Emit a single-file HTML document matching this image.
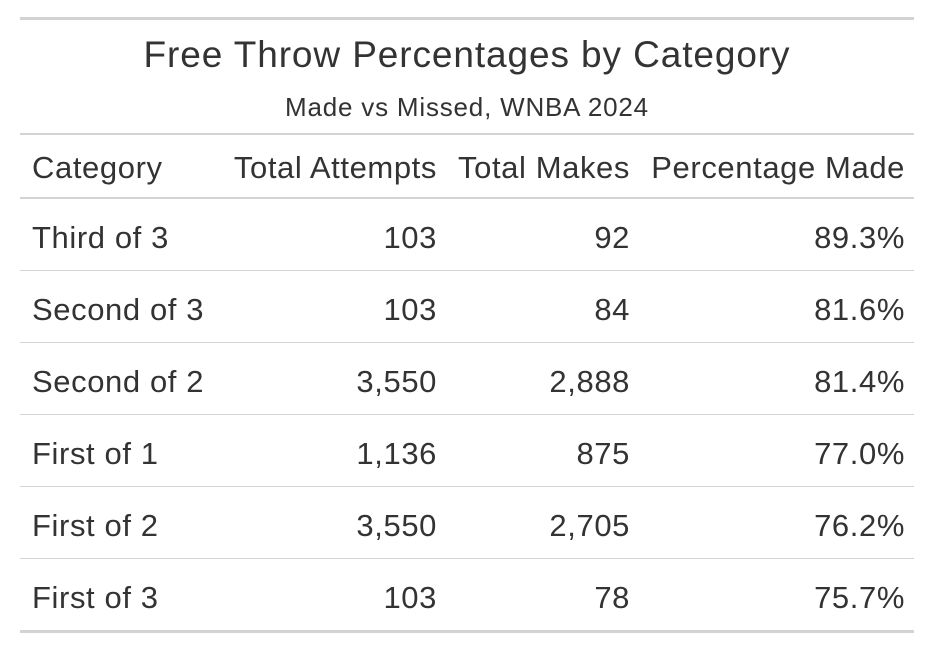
<!DOCTYPE html>
<html><head><meta charset="utf-8"><style>
body{margin:0;background:#fff;width:936px;height:658px;position:relative;font-family:"Liberation Sans",sans-serif;color:#333;overflow:hidden}
.l{position:absolute;left:20px;width:894px;background:#d3d3d3}
.t{position:absolute;white-space:nowrap;font-size:31px;letter-spacing:0.6px;line-height:34px}
.r{text-align:right}
</style></head><body>
<div class="l" style="top:17px;height:3px"></div>
<div class="t" style="left:20px;width:894px;text-align:center;top:35px;font-size:37px;letter-spacing:0.9px;line-height:40px">Free Throw Percentages by Category</div>
<div class="t" style="left:20px;width:894px;text-align:center;top:92px;font-size:26px;letter-spacing:0.8px;line-height:30px">Made vs Missed, WNBA 2024</div>
<div class="l" style="top:133px;height:2px"></div>
<div class="t" style="left:32px;top:151px">Category</div>
<div class="t r" style="right:499px;top:151px">Total Attempts</div>
<div class="t r" style="right:306px;top:151px">Total Makes</div>
<div class="t r" style="right:31px;top:151px">Percentage Made</div>
<div class="l" style="top:197px;height:2px"></div>
<div id="rows"></div>
<script>
const categories=["Third of 3","Second of 3","Second of 2","First of 1","First of 2","First of 3"];
const attempts=["103","103","3,550","1,136","3,550","103"];
const makes=["92","84","2,888","875","2,705","78"];
const pcts=["89.3%","81.6%","81.4%","77.0%","76.2%","75.7%"];
const rows=document.getElementById('rows');
categories.forEach((c,i)=>{
  const top=199+i*72;
  const mk=(txt,style,cls,name)=>{const d=document.createElement('div');d.className=cls;d.setAttribute('style',style);d.textContent=txt;
    
    
    rows.appendChild(d);};
  mk(c,`left:32px;top:${top+22}px`,'t','cell-category');
  mk(attempts[i],`right:499px;top:${top+22}px`,'t r','cell-attempts');
  mk(makes[i],`right:306px;top:${top+22}px`,'t r','cell-makes');
  mk(pcts[i],`right:31px;top:${top+22}px`,'t r','cell-percentage');
  const ln=document.createElement('div');ln.className='l';
  const last=i===categories.length-1;
  ln.setAttribute('style',`top:${top+71}px;height:${last?3:1}px`);
  
  
  rows.appendChild(ln);
});
</script>
</body></html>
